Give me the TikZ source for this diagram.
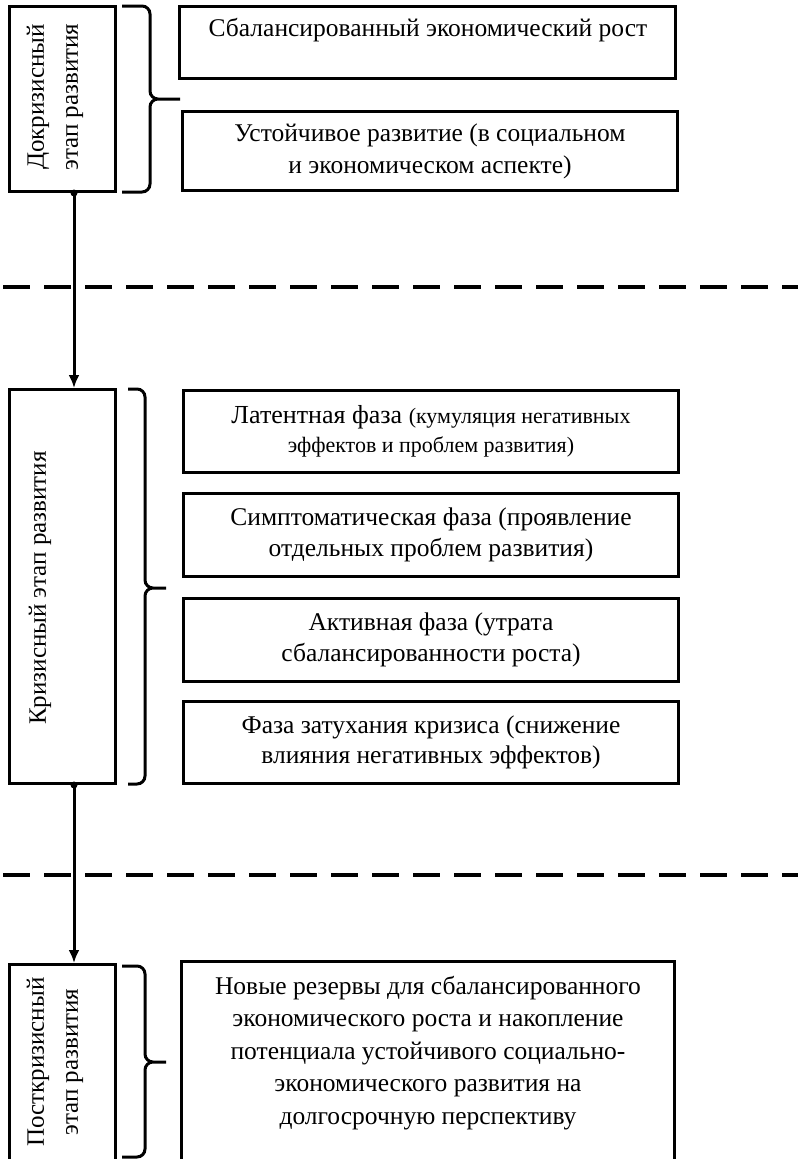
\documentclass[tikz,border=0pt]{standalone}
\usepackage{fontspec}
\setmainfont{Liberation Serif}
\usetikzlibrary{arrows.meta,calc}
\newcommand\mybracepath[6]{%
  \draw[bracestyle] (#1,#3) -- ({#2-8},#3) to[out=0,in=90] (#2,{#3+8}) -- (#2,{#4-8})
    to[out=-90,in=180] ({#2+8},#4) -- (#6,#4) -- ({#2+8},#4)
    to[out=180,in=90] (#2,{#4+8}) -- (#2,{#5-8}) to[out=-90,in=0] ({#2-8},#5) -- (#1,#5);}
\newcommand\smallfs{\fontsize{22}{29}\selectfont}
\begin{document}
\begin{tikzpicture}[x=1pt,y=-1pt,
  box/.style={draw, line width=3pt, inner sep=0pt, align=center,
    font=\fontsize{25.5}{30.5}\selectfont},
  txt/.style={align=center, inner sep=0pt, font=\fontsize{25.5}{33}\selectfont},
  vtxt/.style={align=center, inner sep=0pt, rotate=90, font=\fontsize{25}{34}\selectfont},
  bracestyle/.style={line width=3pt},
  arr/.style={line width=3pt, -{Latex[length=13pt,width=11pt]}},
  sepline/.style={line width=4pt, dash pattern=on 27pt off 14pt, dash phase=38pt}]
\useasboundingbox (0,0) rectangle (798,1159);
\clip (0,0) rectangle (798,1159);

% pre-crisis
\node[box, minimum width=106pt, minimum height=185pt] (pre) at (62.5,99) {};
\node[vtxt] (pret) at (55,97) {Докризисный\\этап развития};
\node[box, minimum width=496pt, minimum height=72pt] (b1) at (427.5,42.5) {};
\node[txt] (b1t) at (428,30) {Сбалансированный экономический рост};
\node[box, minimum width=495pt, minimum height=79pt, font=\fontsize{25.5}{32}\selectfont] (b2) at (430,151)
  {Устойчивое развитие (в социальном\\и экономическом аспекте)};
\mybracepath{122}{150}{6}{99}{192}{180}

% separator
\coordinate (s1l) at (0,287); \coordinate (s1r) at (798,287);
\draw[sepline] (s1l) -- (s1r);

% crisis
\node[box, minimum width=106pt, minimum height=394pt] (crisis) at (62.5,586.5) {};
\node[vtxt] (crisist) at (40,588) {Кризисный этап развития};
\node[box, minimum width=495pt, minimum height=82pt, font=\fontsize{26}{28.5}\selectfont] (p1) at (431,431.5)
  {Латентная фаза {\smallfs (кумуляция негативных}\\{\smallfs эффектов и проблем развития)}};
\node[box, minimum width=495pt, minimum height=83pt] (p2) at (431,535)
  {Симптоматическая фаза (проявление\\отдельных проблем развития)};
\node[box, minimum width=495pt, minimum height=83pt] (p3) at (431,640)
  {Активная фаза (утрата\\сбалансированности роста)};
\node[box, minimum width=495pt, minimum height=82pt] (p4) at (431,742.5)
  {Фаза затухания кризиса (снижение\\влияния негативных эффектов)};
\mybracepath{128}{145}{389}{588}{784}{166}

% separator
\coordinate (s2l) at (0,875); \coordinate (s2r) at (798,875);
\draw[sepline] (s2l) -- (s2r);

% post-crisis
\node[box, minimum width=106pt, minimum height=214pt] (post) at (62.5,1071.5) {};
\node[vtxt] (postt) at (55,1062) {Посткризисный\\этап развития};
\node[box, minimum width=493pt, minimum height=217pt] (b3) at (428,1070) {};
\node[txt, font=\fontsize{25.5}{32.5}\selectfont] (b3t) at (428,1053)
  {Новые резервы для сбалансированного\\экономического роста и накопление\\потенциала устойчивого социально-\\экономического развития на\\долгосрочную перспективу};
\mybracepath{122}{145}{966}{1062}{1157}{166}

% arrows
\coordinate (ax) at (74,0);
\fill (pre.south -| ax) circle (3.5pt);
\draw[arr] (pre.south -| ax) -- (crisis.north -| ax);
\fill (crisis.south -| ax) circle (3.5pt);
\draw[arr] (crisis.south -| ax) -- (post.north -| ax);
\end{tikzpicture}
\end{document}
